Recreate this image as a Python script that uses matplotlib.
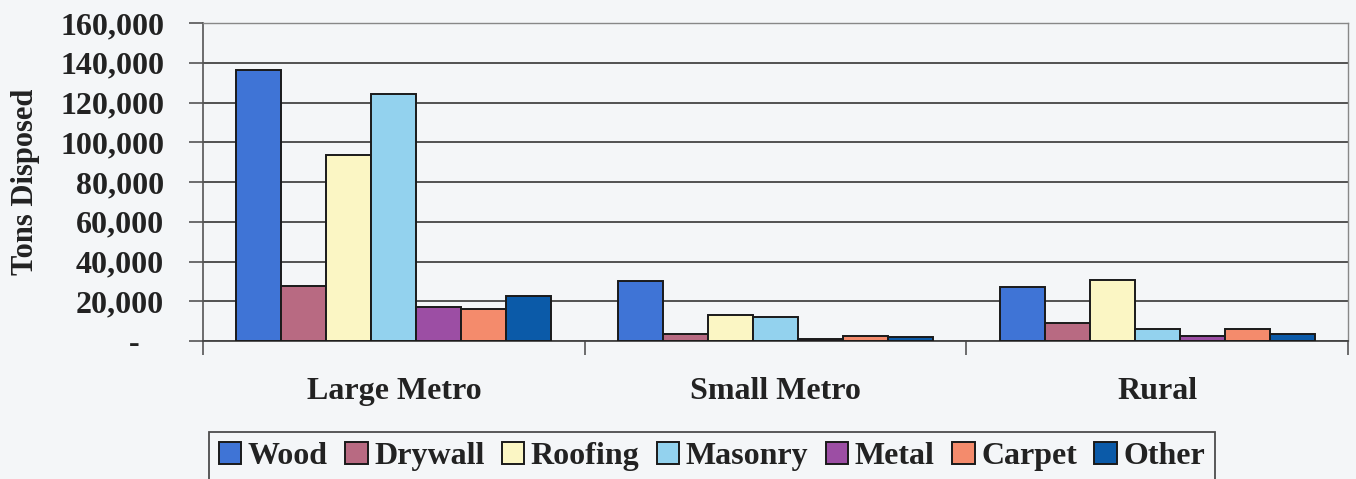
import matplotlib
matplotlib.use('Agg')
import matplotlib.pyplot as plt
import matplotlib.ticker as mticker
import numpy as np

# Tons of C&D material disposed, by region type
regions = ['Large Metro', 'Small Metro', 'Rural']
materials = ['Wood', 'Drywall', 'Roofing', 'Masonry', 'Metal', 'Carpet', 'Other']

wood = [136400, 30200, 27200]
drywall = [27500, 3700, 9100]
roofing = [93400, 12900, 30600]
masonry = [124100, 12100, 6200]
metal = [17000, 1000, 2700]
carpet = [16100, 2400, 6000]
other = [22500, 2000, 3700]

colors = ['#3f74d6', '#b86a82', '#fbf6c4', '#93d2ee', '#9c4ea4', '#f48b6c', '#0b5aa8']

plt.rcParams['font.family'] = ['Liberation Serif', 'DejaVu Serif']
plt.rcParams['font.weight'] = 'bold'

bg = '#f4f6f8'
fig = plt.figure(figsize=(13.56, 4.79), dpi=100, facecolor=bg)
ax = fig.add_axes([203/1356, 1 - 341/479, 1145/1356, 318/479], facecolor=bg)

series = [wood, drywall, roofing, masonry, metal, carpet, other]
n = len(series)
group = 0.826
w = group / n
x = np.arange(len(regions))
for i, (vals, name, c) in enumerate(zip(series, materials, colors)):
    offs = (i - (n - 1) / 2) * w
    ax.bar(x + offs, vals, width=w, color=c, edgecolor='#1a1a1a', linewidth=1.4,
           label=name, zorder=3)

ax.set_xlim(-0.5, 2.5)
ax.set_ylim(0, 160000)

ax.yaxis.set_major_locator(mticker.MultipleLocator(20000))
ax.yaxis.set_major_formatter(mticker.FuncFormatter(
    lambda v, _: '-   ' if v == 0 else f'{v:,.0f}'))
ax.grid(axis='y', color='#444444', linewidth=1.3, zorder=0)

# category boundaries get tick marks, names sit in between
ax.set_xticks([-0.5, 0.5, 1.5, 2.5])
ax.set_xticklabels([])
ax.set_xticks(x, minor=True)
ax.set_xticklabels(regions, minor=True, fontsize=23, fontweight='bold', color='#222222')
ax.tick_params(axis='x', which='major', direction='out', length=10, width=1.2, color='#555555')
ax.tick_params(axis='x', which='minor', length=0, pad=26)
ax.tick_params(axis='y', direction='out', length=10, width=1.2, color='#555555',
               labelsize=23, labelcolor='#222222', pad=18)

for s in ['top', 'right']:
    ax.spines[s].set_color('#888888')
    ax.spines[s].set_linewidth(1.0)
ax.spines['left'].set_color('#555555')
ax.spines['left'].set_linewidth(1.2)
ax.spines['bottom'].set_color('#444444')
ax.spines['bottom'].set_linewidth(1.3)

ax.set_ylabel('Tons Disposed', fontsize=22, fontweight='bold', color='#222222')
ax.yaxis.set_label_coords(-0.142, 0.5)

leg = fig.legend(loc='upper center', bbox_to_anchor=(712/1356, 1 - 432/479), ncol=7,
                 frameon=True, fancybox=False, edgecolor='#222222', facecolor=bg,
                 fontsize=23, handlelength=0.7, handleheight=0.7, handletextpad=0.2,
                 columnspacing=0.55, borderpad=0.3, borderaxespad=0)
leg.get_frame().set_linewidth(1.3)
for t in leg.get_texts():
    t.set_color('#222222')

fig.savefig('out.png', dpi=100, facecolor=bg)
